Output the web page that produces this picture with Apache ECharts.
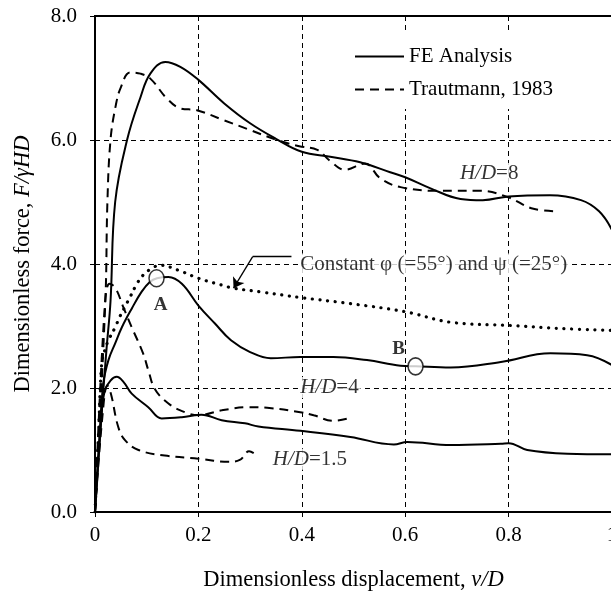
<!DOCTYPE html>
<html>
<head>
<meta charset="utf-8">
<script src="https://cdn.jsdelivr.net/npm/echarts@6/dist/echarts.min.js"></script>
<style>
html, body { margin: 0; padding: 0; background: #fff; }
#chart { width: 611px; height: 591px; }
</style>
</head>
<body>
<div id="chart"></div>
<script>
// tick labels
const xTickLabels = ['0', '0.2', '0.4', '0.6', '0.8', '1']
const yTickLabels = ['0.0', '2.0', '4.0', '6.0', '8.0']

// [v/D, F/γHD]
const feHD8 = [[0, 0], [0.012, 1.5], [0.022, 2.6], [0.03, 3.4], [0.039, 5.0], [0.062, 6.0], [0.088, 6.69],
  [0.107, 7.07], [0.136, 7.26], [0.165, 7.18], [0.2, 6.97], [0.25, 6.59], [0.3, 6.27], [0.35, 6.02],
  [0.4, 5.81], [0.455, 5.73], [0.513, 5.64], [0.571, 5.48], [0.6, 5.4], [0.649, 5.22], [0.707, 5.05],
  [0.75, 5.03], [0.8, 5.09], [0.88, 5.11], [0.94, 5.03], [0.975, 4.85], [1.0, 4.55]]
const trautHD8 = [[0, 0], [0.02, 3.4], [0.024, 5.0], [0.03, 6.0], [0.04, 6.55], [0.05, 6.85], [0.068, 7.09],
  [0.088, 7.07], [0.107, 6.99], [0.139, 6.67], [0.165, 6.51], [0.197, 6.48], [0.249, 6.32], [0.294, 6.18],
  [0.352, 6.0], [0.395, 5.9], [0.43, 5.84], [0.455, 5.66], [0.483, 5.52], [0.522, 5.62], [0.552, 5.38],
  [0.591, 5.24], [0.668, 5.18], [0.746, 5.18], [0.798, 5.08], [0.848, 4.89], [0.897, 4.85]]
const feHD4 = [[0, 0], [0.008, 1.1], [0.016, 2.07], [0.026, 2.45], [0.039, 2.72], [0.052, 2.98], [0.071, 3.28],
  [0.09, 3.55], [0.106, 3.71], [0.12, 3.77], [0.142, 3.79], [0.168, 3.68], [0.2, 3.33], [0.232, 3.04],
  [0.263, 2.77], [0.3, 2.58], [0.34, 2.48], [0.397, 2.5], [0.461, 2.5], [0.526, 2.45], [0.591, 2.36],
  [0.62, 2.35], [0.688, 2.33], [0.785, 2.42], [0.881, 2.56], [0.952, 2.53], [1.0, 2.37]]
const trautHD4 = [[0, 0], [0.018, 3.2], [0.028, 3.68], [0.039, 3.62], [0.055, 3.3], [0.071, 2.98], [0.093, 2.56],
  [0.103, 2.29], [0.116, 1.98], [0.142, 1.75], [0.174, 1.61], [0.2, 1.56], [0.245, 1.64], [0.297, 1.69],
  [0.333, 1.68], [0.397, 1.61], [0.423, 1.56], [0.461, 1.47], [0.49, 1.51]]
const feHD15 = [[0, 0], [0.012, 1.5], [0.019, 1.96], [0.03, 2.12], [0.042, 2.18], [0.055, 2.1], [0.071, 1.91],
  [0.103, 1.69], [0.129, 1.51], [0.168, 1.53], [0.206, 1.57], [0.245, 1.48], [0.29, 1.43], [0.316, 1.38],
  [0.397, 1.31], [0.494, 1.21], [0.578, 1.09], [0.604, 1.13], [0.688, 1.08], [0.785, 1.1], [0.8, 1.11],
  [0.836, 1.0], [0.914, 0.94], [1.0, 0.93]]
const trautHD15 = [[0, 0], [0.015, 1.6], [0.024, 2.04], [0.031, 1.9], [0.045, 1.37], [0.058, 1.16], [0.084, 1.0],
  [0.135, 0.91], [0.2, 0.86], [0.258, 0.81], [0.28, 0.84], [0.298, 0.98], [0.307, 0.95]]
const constPhi = [[0, 0], [0.007, 1.3], [0.013, 2.4], [0.019, 2.61], [0.026, 2.77], [0.039, 2.98], [0.048, 3.15],
  [0.058, 3.31], [0.068, 3.47], [0.081, 3.68], [0.093, 3.82], [0.11, 3.93], [0.126, 3.98], [0.161, 3.9],
  [0.2, 3.77], [0.245, 3.66], [0.268, 3.61], [0.32, 3.55], [0.397, 3.46], [0.494, 3.36], [0.6, 3.23],
  [0.688, 3.06], [0.8, 3.01], [0.9, 2.96], [1.0, 2.93]]

// points A and B on the H/D=4 curve
const markedPoints = [[0.119, 3.77], [0.62, 2.35]]
const markedNames = ['A', 'B']
const markedLabelAt = [[0.127, 3.33], [0.587, 2.62]]

// text notes: [x, y, text], placed left-aligned at x
const notes = [
  [0.701, 5.46, 'H/D=8'],
  [0.392, 2.01, 'H/D=4'],
  [0.339, 0.85, 'H/D=1.5'],
  [0.392, 4.0, 'Constant φ (=55°) and ψ (=25°)'],
]
// leader from the note to the dotted curve
const leader = [[0.38, 4.12], [0.305, 4.12], [0.268, 3.61]]

const FONT = 'Liberation Serif'
const INK = '#000'

const chart = echarts.init(document.getElementById('chart'), null, { renderer: 'canvas' })

const curve = (name, data, dashed) => ({
  name,
  type: 'line',
  data,
  smooth: 0.4,
  symbol: 'none',
  silent: true,
  z: 3,
  lineStyle: { color: INK, width: 2, type: dashed ? [9, 6] : 'solid' },
  itemStyle: { color: INK },
})

// H/D=… gets italic H and D
const noteRich = (t) => t.startsWith('H/D') ? '{i|H/D}' + t.slice(3) : t

const option = {
  animation: false,
  backgroundColor: '#fff',
  grid: {
    left: 95, top: 16, width: 517, height: 496,
    outerBoundsMode: 'none',
    containLabel: false,
    show: true, borderColor: INK, borderWidth: 2, backgroundColor: 'transparent',
  },
  legend: {
    data: ['FE Analysis', 'Trautmann, 1983'],
    orient: 'vertical',
    left: 346,
    top: 33,
    padding: [13, 30, 9, 8],
    backgroundColor: '#fff',
    itemWidth: 49,
    itemHeight: 14,
    itemGap: 12,
    selectedMode: false,
    itemStyle: { color: 'rgba(0,0,0,0)', borderColor: 'rgba(0,0,0,0)', borderWidth: 0 },
    textStyle: { fontFamily: FONT, fontSize: 21, color: INK },
  },
  xAxis: {
    type: 'value',
    min: 0, max: 1, interval: 0.2,
    name: 'Dimensionless displacement, {i|v/D}',
    nameLocation: 'middle',
    nameGap: 57,
    nameTextStyle: {
      fontFamily: FONT, fontSize: 22.5, color: INK,
      rich: { i: { fontFamily: FONT, fontSize: 22.5, fontStyle: 'italic', color: INK } },
    },
    axisLine: { lineStyle: { color: INK, width: 2 } },
    axisTick: { show: true, inside: false, length: 5, lineStyle: { color: INK } },
    axisLabel: {
      margin: 13, color: INK, fontFamily: FONT, fontSize: 21,
      formatter: (v) => xTickLabels[Math.round(v / 0.2)],
    },
    splitLine: { show: true, lineStyle: { color: INK, width: 1, type: [5, 4] } },
  },
  yAxis: {
    type: 'value',
    min: 0, max: 8, interval: 2,
    name: 'Dimensionless force, {i|F/γHD}',
    nameLocation: 'middle',
    nameGap: 60,
    nameTextStyle: {
      fontFamily: FONT, fontSize: 22.5, color: INK,
      rich: { i: { fontFamily: FONT, fontSize: 22.5, fontStyle: 'italic', color: INK } },
    },
    axisLine: { show: true, lineStyle: { color: INK, width: 2 } },
    axisTick: { show: true, inside: false, length: 5, lineStyle: { color: INK } },
    axisLabel: {
      margin: 18, color: INK, fontFamily: FONT, fontSize: 21,
      formatter: (v) => yTickLabels[Math.round(v / 2)],
    },
    splitLine: { show: true, lineStyle: { color: INK, width: 1, type: [5, 4] } },
  },
  series: [
    curve('FE Analysis', feHD8, false),
    curve('Trautmann, 1983', trautHD8, true),
    curve('FE Analysis', feHD4, false),
    curve('Trautmann, 1983', trautHD4, true),
    curve('FE Analysis', feHD15, false),
    curve('Trautmann, 1983', trautHD15, true),
    {
      name: 'constant',
      type: 'line',
      data: constPhi,
      smooth: 0.4,
      symbol: 'none',
      silent: true,
      z: 3,
      lineStyle: { color: INK, width: 3.2, type: [0.1, 7.6], cap: 'round' },
    },
    {
      name: 'points',
      type: 'scatter',
      data: markedPoints,
      symbol: 'circle',
      symbolSize: [15, 17],
      silent: true,
      z: 6,
      itemStyle: { color: '#fff', borderColor: INK, borderWidth: 1.6 },
    },
    {
      name: 'pointNames',
      type: 'scatter',
      data: markedLabelAt.map((p, i) => ({ value: p, name: markedNames[i] })),
      symbolSize: 1,
      silent: true,
      z: 6,
      itemStyle: { color: 'rgba(0,0,0,0)' },
      label: {
        show: true, position: 'inside', formatter: '{b}',
        fontFamily: FONT, fontSize: 19, fontWeight: 'bold', color: INK,
      },
    },
    {
      name: 'notes',
      type: 'scatter',
      data: notes.map((n) => ({ value: [n[0], n[1]], name: n[2] })),
      symbolSize: 1,
      silent: true,
      z: 5,
      itemStyle: { color: 'rgba(0,0,0,0)' },
      label: {
        show: true, position: 'right', distance: 0,
        formatter: (p) => noteRich(p.name),
        fontFamily: FONT, fontSize: 21, color: INK,
        backgroundColor: '#fff', padding: [0, 2, 0, 2],
        rich: { i: { fontFamily: FONT, fontSize: 21, fontStyle: 'italic', color: INK } },
      },
      markLine: {
        silent: true,
        symbol: ['none', 'none'],
        symbolSize: 10,
        label: { show: false },
        lineStyle: { color: INK, width: 1.3, type: 'solid' },
        data: [
          [{ coord: leader[0] }, { coord: leader[1] }],
          [{ coord: leader[1], symbol: 'none' }, { coord: leader[2], symbol: 'arrow' }],
        ],
      },
    },
  ],
}

chart.setOption(option)
</script>
</body>
</html>
